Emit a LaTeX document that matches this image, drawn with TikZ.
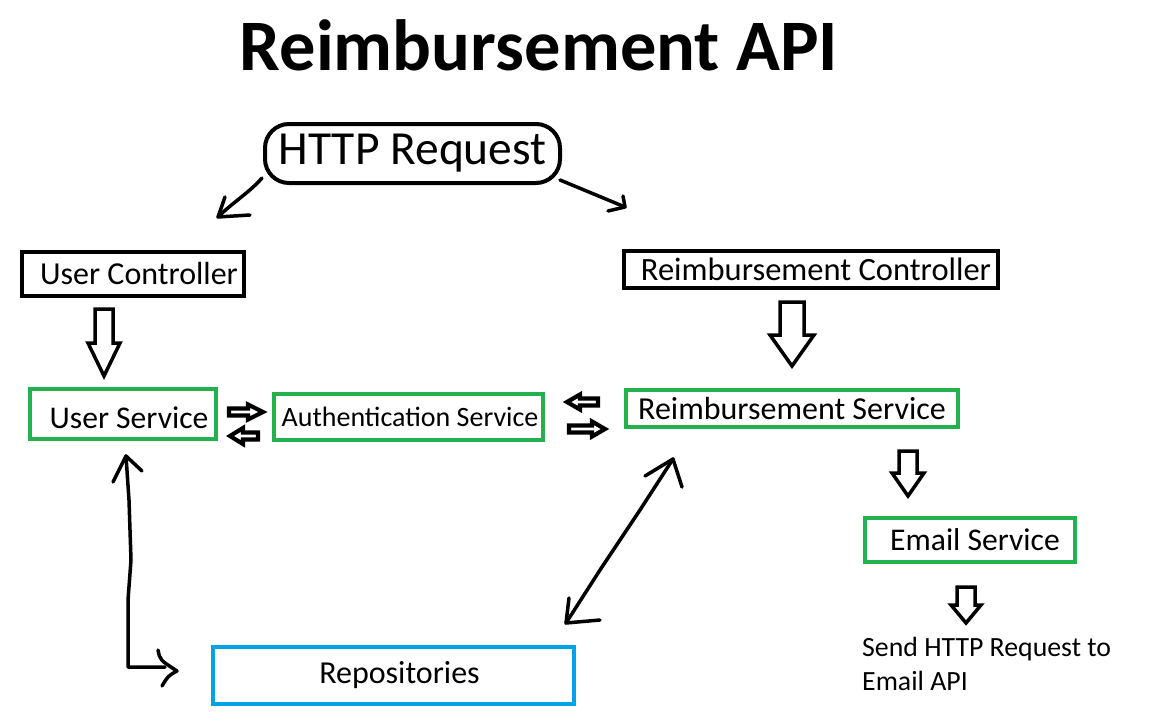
\documentclass[tikz,border=0pt]{standalone}
\usepackage{fontspec}
\setmainfont{Carlito}
\definecolor{pgreen}{HTML}{22B14C}
\definecolor{pblue}{HTML}{00A2E8}
\newcommand\blkdown[6]{\draw[blk] (#1-#3,#2) -- (#1+#3,#2) -- (#1+#3,#5) -- (#1+#4,#5) -- (#1,#6) -- (#1-#4,#5) -- (#1-#3,#5) -- cycle;}
\newcommand\blkright[6]{\draw[blk, line width=4.2pt] (#1,#2-#3) -- (#5,#2-#3) -- (#5,#2-#4) -- (#6,#2) -- (#5,#2+#4) -- (#5,#2+#3) -- (#1,#2+#3) -- cycle;}
\tikzset{
  box/.style={draw, line width=4pt, inner sep=0pt, outer sep=0pt, text=black},
  blackbox/.style={box, draw=black},
  greenbox/.style={box, draw=pgreen},
  bluebox/.style={box, draw=pblue},
  blk/.style={draw=black, fill=white, line width=3.5pt, line join=miter},
  hand/.style={draw=black, line width=3.5pt, line cap=round, line join=round},
}
\begin{document}
\begin{tikzpicture}[x=1pt,y=-1pt]
\useasboundingbox (0,0) rectangle (1152,720);
\fill[white] (0,0) rectangle (1152,720);

\node[anchor=base, font=\fontsize{72.5}{80}\selectfont\bfseries, inner sep=0pt] (title) at (539,70) {Reimbursement API};

\node[blackbox, rounded corners=24pt, minimum width=295pt, minimum height=59pt, font=\fontsize{47.5}{54}\selectfont] (http) at (412.5,153.5) {HTTP Request};

\node[blackbox, minimum width=222pt, minimum height=44pt, font=\fontsize{32}{36}\selectfont] (uc) at (133,274) {\hspace{12pt}User Controller};
\node[blackbox, minimum width=374pt, minimum height=37pt, font=\fontsize{32.5}{36}\selectfont] (rc) at (811,269.5) {\hspace{10pt}Reimbursement Controller};
\node[greenbox, minimum width=186pt, minimum height=50pt, font=\fontsize{31.6}{36}\selectfont, text height=28pt, text depth=0pt] (us) at (123,414) {\hspace{12pt}User Service};
\node[greenbox, minimum width=269pt, minimum height=46pt, font=\fontsize{28}{32}\selectfont] (auth) at (408.5,417) {\hspace{3pt}Authentication Service};
\node[greenbox, minimum width=332pt, minimum height=37pt, font=\fontsize{32}{36}\selectfont] (rs) at (792,408.5) {Reimbursement Service\hspace{7pt}};
\node[greenbox, minimum width=210pt, minimum height=44pt, font=\fontsize{31.6}{36}\selectfont] (email) at (970,540) {\hspace{10pt}Email Service};
\node[bluebox, minimum width=361pt, minimum height=57pt, font=\fontsize{32}{36}\selectfont] (repo) at (393.5,675.5) {\hspace{12pt}Repositories};

\node[anchor=north west, inner sep=0pt, align=left, font=\fontsize{27.8}{34}\selectfont] (send) at (862,637) {Send HTTP Request to\\Email API};

% block arrows
\blkdown{104}{309}{9}{16}{343}{376}
\blkdown{792}{302}{12}{22}{335}{366}
\blkdown{908}{451}{9}{16}{473}{496}
\blkdown{966}{587}{9}{15}{605}{623}
\blkright{229}{412}{3.5}{7.5}{248}{263}
\blkright{258}{436}{3.5}{8}{243}{230}
\blkright{598}{402}{3.5}{7.5}{580}{567}
\blkright{569}{429}{3.5}{7.5}{592}{605}

% hand-drawn arrows
\coordinate (hl0) at (262,178);
\coordinate (hl1) at (218,217);
\draw[hand] (hl0) .. controls (250,192) and (232,203) .. (hl1);
\draw[hand] (225,197) -- (hl1) -- (250,215);

\coordinate (hr0) at (560,180);
\coordinate (hr1) at (625,207);
\draw[hand] (hr0) -- (hr1);
\draw[hand] (623,196) -- (hr1) -- (608,211);

\coordinate (ur0) at (126,456);
\coordinate (ur1) at (177,671);
\draw[hand] (ur0) -- (129,500) -- (131,560) -- (128,600) -- (128,667) -- (165,667);
\draw[hand] (113,482) -- (ur0) -- (142,471);
\draw[hand] (158,650) .. controls (160,660) .. (ur1) .. controls (168,676) .. (162,686);

\coordinate (rr0) at (673,459);
\coordinate (rr1) at (566,623);
\draw[hand] (rr0) -- (640,510) -- (600,570) -- (rr1);
\draw[hand] (645,476) -- (rr0) -- (682,487);
\draw[hand] (569,598) -- (rr1) -- (600,620);
\end{tikzpicture}
\end{document}
